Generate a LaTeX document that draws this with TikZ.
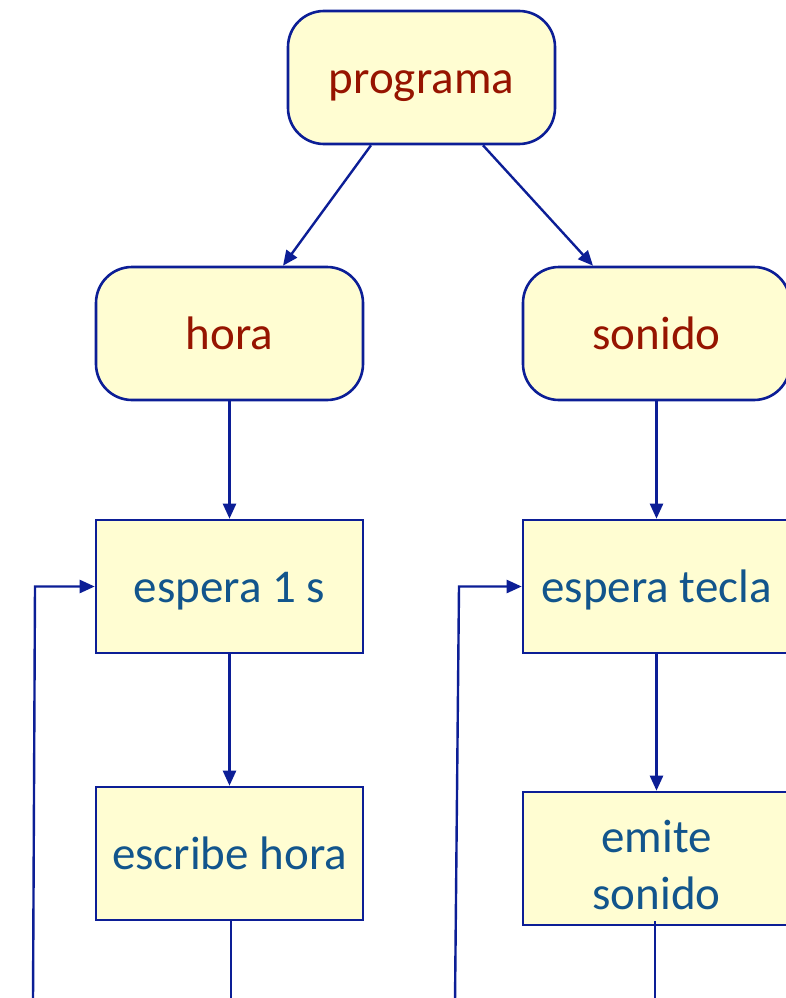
\documentclass[tikz,border=0pt]{standalone}
\usepackage{fontspec}
\setmainfont{Carlito}
\usetikzlibrary{arrows.meta}
\definecolor{bordercol}{RGB}{12,30,150}
\definecolor{fillcol}{RGB}{255,253,210}
\definecolor{redtext}{RGB}{150,20,0}
\definecolor{bluetext}{RGB}{18,85,140}
\tikzset{
  base/.style={draw=bordercol, line width=2.6pt, fill=fillcol, minimum width=267pt, minimum height=133pt, inner sep=0pt, font=\fontsize{47}{57}\selectfont},
  oneline/.style={text height=38pt, text depth=6pt},
  roundbox/.style={base, oneline, rounded corners=36pt, text=redtext},
  stepbox/.style={base, oneline, text=bluetext},
  twoline/.style={base, align=center, text=bluetext},
  conn/.style={draw=bordercol, line width=2.4pt},
  arr/.style={conn, -{Triangle[length=15pt,width=13pt]}}
}
\begin{document}
\begin{tikzpicture}[x=1pt,y=-1pt]
\useasboundingbox (0,0) rectangle (786,998);
\node[roundbox] (programa) at (421.5,77.5) {programa};
\node[roundbox] (hora) at (229.5,333.5) {hora};
\node[roundbox] (sonido) at (656.5,333.5) {sonido};
\node[stepbox] (espera1) at (229.5,586.5) {espera 1 s};
\node[stepbox] (esperatecla) at (656.5,586.5) {espera tecla};
\node[stepbox] (escribe) at (229.5,853.5) {escribe hora};
\node[twoline] (emite) at (656.5,858.5) {\rule{0pt}{46pt}emite\\sonido};
\coordinate (b1) at (231,1002);
\coordinate (b2) at (655,1002);
\coordinate (l1) at (33,1002);
\coordinate (l1t) at (35,586.5);
\coordinate (l2) at (455,1002);
\coordinate (l2t) at (459,586.5);
\draw[arr] ([xshift=-50.5pt]programa.south) -- ([xshift=53.5pt]hora.north);
\draw[arr] ([xshift=61.5pt]programa.south) -- ([xshift=-63.5pt]sonido.north);
\draw[arr] (hora) -- (espera1);
\draw[arr] (sonido) -- (esperatecla);
\draw[arr] (espera1) -- (escribe);
\draw[arr] (esperatecla) -- (emite);
\draw[conn] (escribe.south -| b1) -- (b1);
\draw[conn] ([yshift=5pt]emite.south -| b2) -- (b2);
\draw[arr] (l1) -- (l1t) -- (espera1.west);
\draw[arr] (l2) -- (l2t) -- (esperatecla.west);
\end{tikzpicture}
\end{document}
